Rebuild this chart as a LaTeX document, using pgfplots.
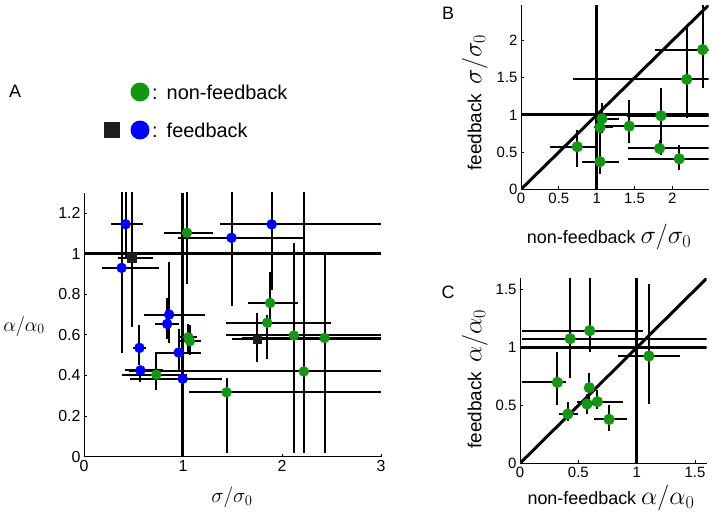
\RequirePackage{fix-cm}
\documentclass[border=0pt]{standalone}
\usepackage{pgfplots}
\usepackage{pgfplotstable}
\pgfplotsset{compat=1.18}
\usepackage{fontspec}
\setmainfont{Liberation Sans}
\definecolor{fbgreen}{RGB}{20,150,20}
\definecolor{fbblue}{RGB}{0,0,255}
\definecolor{fbsq}{RGB}{30,30,30}
\newcommand\mth[2]{{\fontsize{#1}{#1}\selectfont$#2$}}

\pgfplotsset{
  panel/.style={
    scale only axis, axis lines=left, axis line style={-, line width=1bp},
    tick align=inside, major tick length=3bp, tick style={black, line width=0.8bp},
    /pgf/number format/assume math mode=true,
    anchor=south west,
  },
  ebar/.style={only marks, mark=*, mark size=5bp, color=#1, mark options={draw=#1, fill=#1},
     error bars/x dir=both, error bars/y dir=both,
     error bars/x explicit, error bars/y explicit,
     error bars/error bar style={black, line width=2bp, solid},
     error bars/error mark=none},
  refline/.style={black, line width=3bp, no markers, solid},
  /pgfplots/table/errtab/.style={/pgfplots/table/x=x, /pgfplots/table/y=y,
     /pgfplots/table/x error plus expr=\thisrow{xhi}-\thisrow{x},
     /pgfplots/table/x error minus expr=\thisrow{x}-\thisrow{xlo},
     /pgfplots/table/y error plus expr=\thisrow{yhi}-\thisrow{y},
     /pgfplots/table/y error minus expr=\thisrow{y}-\thisrow{ylo}},
}

\pgfplotstableread{
x y xlo xhi ylo yhi
0.42 1.145 0.27 0.60 0.98 1.45
0.38 0.93 0.18 0.76 0.51 1.45
0.56 0.536 0.50 0.63 0.45 0.65
0.57 0.425 0.41 0.80 0.37 0.44
0.86 0.70 0.61 1.22 0.56 0.96
0.84 0.654 0.72 0.96 0.58 0.78
0.956 0.513 0.73 1.18 0.425 0.63
0.997 0.384 0.46 1.39 0.20 0.50
1.49 1.078 0.95 2.23 0.74 1.45
1.896 1.144 1.37 3.3 0.82 1.45
}\Ablue

\pgfplotstableread{
x y xlo xhi ylo yhi
1.04 1.103 0.81 1.30 0.85 1.45
1.054 0.588 0.95 1.14 0.51 0.655
1.07 0.569 0.97 1.18 0.50 0.65
0.73 0.404 0.38 1.04 0.327 0.515
1.44 0.317 1.06 3.3 0.017 0.39
1.88 0.757 1.66 2.16 0.64 0.91
1.85 0.66 1.43 2.50 0.48 0.70
2.12 0.597 1.43 3.3 0.017 1.054
2.43 0.585 1.60 3.3 0.017 1.0
2.22 0.42 0.45 3.3 0.017 1.45
}\Agreen

\pgfplotstableread{
x y xlo xhi ylo yhi
0.48 0.98 0.34 0.70 0.64 1.45
1.75 0.578 1.49 3.3 0.466 0.71
}\Asq

\pgfplotstableread{
x y xlo xhi ylo yhi
0.744 0.573 0.38 0.98 0.30 0.80
1.044 0.372 0.81 1.30 0.20 0.55
1.044 0.834 0.97 1.21 0.45 0.98
1.07 0.95 1.00 1.30 0.76 1.16
1.43 0.85 1.08 2.6 0.62 1.20
1.85 0.99 1.40 2.6 0.46 1.36
1.83 0.55 1.42 2.6 0.47 0.66
2.09 0.41 1.42 2.6 0.26 0.60
2.19 1.48 0.69 2.6 0.96 2.21
2.40 1.88 1.77 2.6 1.36 2.48
}\Bgreen

\pgfplotstableread{
x y xlo xhi ylo yhi
0.43 1.078 0.015 1.7 0.735 1.7
0.597 1.147 0.015 1.057 0.965 1.7
1.105 0.928 0.84 1.37 0.51 1.55
0.32 0.70 0.015 0.39 0.50 0.965
0.594 0.654 0.55 0.65 0.55 0.78
0.574 0.513 0.50 0.67 0.43 0.60
0.663 0.533 0.486 0.88 0.47 0.63
0.41 0.426 0.33 0.50 0.37 0.53
0.763 0.38 0.634 0.914 0.28 0.50
}\Cgreen

\begin{document}
\begin{tikzpicture}
\useasboundingbox (0,0) rectangle (713bp,-521bp);

% ---------------- Panel A ----------------
\begin{axis}[panel,
  at={(84bp,-456.7bp)}, width=297bp, height=264bp,
  xmin=0, xmax=3, ymin=0, ymax=1.3,
  xtick={0,1,2,3}, ytick={0,0.2,0.4,0.6,0.8,1,1.2},
  tick label style={font=\fontsize{16}{16}\selectfont},
  xlabel={\mth{21}{\sigma/\sigma_0}},
  ylabel={\mth{20}{\alpha/\alpha_0}},
  xlabel style={at={(axis description cs:0.498,-0.153)}, anchor=center},
  ylabel style={at={(axis description cs:-0.202,0.495)}, anchor=center, rotate=-90},
]
\addplot[refline] coordinates {(0,1) (3,1)};
\addplot[refline] coordinates {(1,0) (1,1.3)};
\addplot[ebar=fbblue] table[errtab] {\Ablue};
\addplot[ebar=fbgreen] table[errtab] {\Agreen};
\addplot[ebar=fbsq, mark=square*, mark size=4.2bp] table[errtab] {\Asq};
\end{axis}

% ---------------- Panel B ----------------
\begin{axis}[panel,
  at={(521bp,-189.3bp)}, width=187.7bp, height=184.3bp,
  xmin=0, xmax=2.48, ymin=0, ymax=2.48,
  xtick={0,0.5,1,1.5,2}, ytick={0,0.5,1,1.5,2},
  tick label style={font=\fontsize{15}{15}\selectfont},
  xlabel={\fontsize{18}{18}\selectfont non-feedback \mth{26}{\sigma/\sigma_0}},
  ylabel={\fontsize{19}{19}\selectfont feedback\hspace{9bp}\mth{26}{\sigma/\sigma_0}},
  xlabel style={at={(axis description cs:0.469,-0.259)}, anchor=center},
  ylabel style={at={(axis description cs:-0.245,0.471)}, anchor=center},
]
\addplot[refline] coordinates {(0,1) (2.48,1)};
\addplot[refline] coordinates {(1,0) (1,2.48)};
\addplot[refline] coordinates {(0,0) (2.48,2.48)};
\addplot[ebar=fbgreen, mark size=5.4bp] table[errtab] {\Bgreen};
\end{axis}

% ---------------- Panel C ----------------
\begin{axis}[panel,
  at={(520bp,-463.3bp)}, width=186.7bp, height=185bp,
  xmin=0, xmax=1.6, ymin=0, ymax=1.6,
  xtick={0,0.5,1,1.5}, ytick={0,0.5,1,1.5},
  tick label style={font=\fontsize{15}{15}\selectfont},
  xlabel={\fontsize{18}{18}\selectfont non-feedback \mth{26}{\alpha/\alpha_0}},
  ylabel={\fontsize{19}{19}\selectfont feedback\hspace{9bp}\mth{26}{\alpha/\alpha_0}},
  xlabel style={at={(axis description cs:0.487,-0.188)}, anchor=center},
  ylabel style={at={(axis description cs:-0.241,0.456)}, anchor=center},
]
\addplot[refline] coordinates {(0,1) (1.6,1)};
\addplot[refline] coordinates {(1,0) (1,1.6)};
\addplot[refline] coordinates {(0,0) (1.6,1.6)};
\addplot[ebar=fbgreen, mark size=5.4bp] table[errtab] {\Cgreen};
\end{axis}

% ---------------- panel letters ----------------
\node[font=\fontsize{18}{18}\selectfont] at (15bp,-91bp) {A};
\node[font=\fontsize{18}{18}\selectfont] at (448bp,-13bp) {B};
\node[font=\fontsize{18}{18}\selectfont] at (448bp,-292bp) {C};

% ---------------- legend ----------------
\fill[fbgreen] (140bp,-92bp) circle (9.5bp);
\node[anchor=west, inner sep=0, font=\fontsize{20}{20}\selectfont] at (152bp,-92bp) {:\hspace{9bp}non-feedback};
\fill[fbsq] (104bp,-138bp) rectangle (120bp,-122bp);
\fill[fbblue] (140bp,-130bp) circle (9.5bp);
\node[anchor=west, inner sep=0, font=\fontsize{20}{20}\selectfont] at (152bp,-130bp) {:\hspace{9bp}feedback};
\end{tikzpicture}
\end{document}
